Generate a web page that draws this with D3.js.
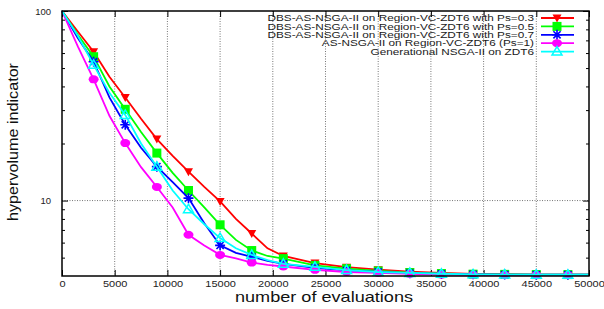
<!DOCTYPE html>
<html><head><meta charset="utf-8">
<script src="https://cdn.jsdelivr.net/npm/d3@7"></script>
<style>body{margin:0;background:#fff}svg{display:block}text{font-family:"Liberation Sans",Arial,sans-serif}</style>
</head><body><svg id="c" width="604" height="309"></svg>
<script>
const evals = [0,1500,3000,4500,6000,7500,9000,10500,12000,13500,15000,16500,18000,19500,21000,24000,27000,30000,33000,36000,39000,42000,45000,48000,50000];
const markerEvals = [3000,6000,9000,12000,15000,18000,21000,24000,27000,30000,33000,36000,39000,42000,45000,48000];
const ps03 = [100,78,61,45,35,27,21.1,17.2,14.2,11.8,9.9,8.0,6.7,5.6,5.1,4.68,4.45,4.32,4.22,4.15,4.1,4.08,4.07,4.06,4.06];
const ps05 = [100,75,57.4,40,30.3,23,17.8,14,11.3,9.2,7.45,6.2,5.45,5.1,4.94,4.55,4.37,4.25,4.17,4.12,4.09,4.08,4.07,4.07,4.07];
const ps07 = [100,72,54,35,25.1,19,15.1,12.5,10.3,7.6,5.8,5.3,5.05,4.8,4.64,4.42,4.28,4.2,4.14,4.1,4.08,4.07,4.06,4.06,4.06];
const ps1  = [100,65,43.6,28,20.1,15,11.8,9.2,6.6,5.8,5.17,4.95,4.71,4.58,4.49,4.31,4.2,4.15,4.1,4.07,4.06,4.05,4.05,4.05,4.05];
const gen  = [100,74,52,37,28.3,20,15.1,11.3,9.0,7.5,6.34,5.6,5.17,4.85,4.64,4.47,4.3,4.2,4.15,4.11,4.08,4.07,4.06,4.06,4.06];
const seriesNames = ["DBS-AS-NSGA-II on Region-VC-ZDT6 with Ps=0.3","DBS-AS-NSGA-II on Region-VC-ZDT6 with Ps=0.5","DBS-AS-NSGA-II on Region-VC-ZDT6 with Ps=0.7","AS-NSGA-II on Region-VC-ZDT6 (Ps=1)","Generational NSGA-II on ZDT6"];
const seriesColors = ["#ff0000","#00ff00","#0000ff","#ff00ff","#00ffff"];
const seriesMarkers = ["tridown","square","star","circle","triup"];
const seriesValues = [ps03,ps05,ps07,ps1,gen];
const xTicks = [0,5000,10000,15000,20000,25000,30000,35000,40000,45000,50000];
const yMajor = [10,100];
const yMinor = [5,6,7,8,9,20,30,40,50,60,70,80,90];

const svg = d3.select("#c");
const L=62,R=589,T=11,B=276;
const x = d3.scaleLinear().domain([0,50000]).range([L,R]);
const y = d3.scaleLog().domain([4,100]).range([B,T]);

// grid
const g = svg.append("g");
g.selectAll("line.gx").data(xTicks.slice(1,-1)).join("line")
 .attr("x1",d=>x(d)).attr("x2",d=>x(d)).attr("y1",T).attr("y2",B)
 .attr("stroke","#777").attr("stroke-width",1).attr("stroke-dasharray","1,1.5");
g.append("line").attr("x1",L).attr("x2",R).attr("y1",y(10)).attr("y2",y(10))
 .attr("stroke","#777").attr("stroke-width",1).attr("stroke-dasharray","1,1.5");

// axes
const xAxis = d3.axisBottom(x).tickValues(xTicks).tickSize(-6).tickPadding(5).tickFormat(d3.format("d"));
const xa = svg.append("g").attr("transform",`translate(0,${B})`).call(xAxis);
xa.selectAll(".tick text").attr("font-size",9).attr("transform","scale(1.22,1)");
const xTop = d3.axisTop(x).tickValues(xTicks).tickSize(-6).tickFormat("");
svg.append("g").attr("transform",`translate(0,${T})`).call(xTop);
const yAxis = d3.axisLeft(y).tickValues(yMajor).tickSize(-6).tickPadding(11).tickFormat(d3.format("d"));
const ya = svg.append("g").attr("transform",`translate(${L},0)`).call(yAxis);
ya.selectAll(".tick text").attr("font-size",9.5);
svg.append("g").attr("transform",`translate(${L},0)`).call(d3.axisLeft(y).tickValues(yMinor).tickSize(-3).tickFormat(""));
svg.append("g").attr("transform",`translate(${R},0)`).call(d3.axisRight(y).tickValues(yMajor).tickSize(-6).tickFormat(""));
svg.append("g").attr("transform",`translate(${R},0)`).call(d3.axisRight(y).tickValues(yMinor).tickSize(-3).tickFormat(""));
svg.selectAll(".domain").remove();
svg.selectAll(".tick line").attr("stroke","#000").attr("stroke-width",1);
svg.selectAll(".tick text").attr("fill","#222").attr("font-family","Liberation Sans, Arial, sans-serif");

// series
const line = d3.line().x((d,i)=>x(evals[i])).y(d=>y(d));
function marker(sel,type,color){
  if(type==="tridown") sel.append("path").attr("d","M-4.5,-3.5L4.5,-3.5L0,4.5Z").attr("fill",color);
  else if(type==="square") sel.append("rect").attr("x",-4.5).attr("y",-4.5).attr("width",9).attr("height",9).attr("fill",color);
  else if(type==="circle") sel.append("ellipse").attr("rx",5).attr("ry",4).attr("fill",color);
  else if(type==="triup") sel.append("path").attr("d","M0,-5L5,3.5L-5,3.5Z").attr("fill","none").attr("stroke",color).attr("stroke-width",1.5);
  else if(type==="star") sel.append("path").attr("d","M-5,0H5M0,-5V5M-3.6,-3.6L3.6,3.6M-3.6,3.6L3.6,-3.6").attr("stroke",color).attr("stroke-width",1.6);
}
seriesValues.forEach((vals,k)=>{
  const sg = svg.append("g");
  sg.append("path").datum(vals).attr("d",line).attr("fill","none").attr("stroke",seriesColors[k]).attr("stroke-width",1.8);
  markerEvals.forEach(e=>{
    const i = evals.indexOf(e);
    const m = sg.append("g").attr("transform",`translate(${x(e)},${y(vals[i])})`);
    marker(m,seriesMarkers[k],seriesColors[k]);
  });
});

// frame
svg.append("rect").attr("x",L).attr("y",T).attr("width",R-L).attr("height",B-T).attr("fill","none").attr("stroke","#000").attr("stroke-width",1.5);

// legend
const legY = [18,26.4,34.8,43.2,51.6];
const legTexts = seriesNames.map((n,k)=>
  svg.append("g").attr("transform",`translate(534,${legY[k]})`)
    .append("text").attr("text-anchor","end").attr("dy","0.36em")
    .attr("font-size",9).attr("fill","#1a1a1a").text(n));
const legScale = 267 / legTexts[0].node().getComputedTextLength();
legTexts.forEach(t=>t.attr("transform",`scale(${legScale},1)`));
seriesNames.forEach((n,k)=>{
  svg.append("line").attr("x1",541).attr("x2",574).attr("y1",legY[k]).attr("y2",legY[k]).attr("stroke",seriesColors[k]).attr("stroke-width",1.8);
  const m = svg.append("g").attr("transform",`translate(557,${legY[k]})`);
  marker(m,seriesMarkers[k],seriesColors[k]);
});

// axis labels
const xl = svg.append("text").attr("x",324).attr("y",302).attr("text-anchor","middle").attr("font-size",15).attr("fill","#111").text("number of evaluations");
xl.attr("textLength",178).attr("lengthAdjust","spacingAndGlyphs");
const yl = svg.append("text").attr("transform","translate(18,142) rotate(-90)").attr("text-anchor","middle").attr("font-size",14.5).attr("fill","#111").text("hypervolume indicator");
yl.attr("textLength",158).attr("lengthAdjust","spacingAndGlyphs");
</script></body></html>
